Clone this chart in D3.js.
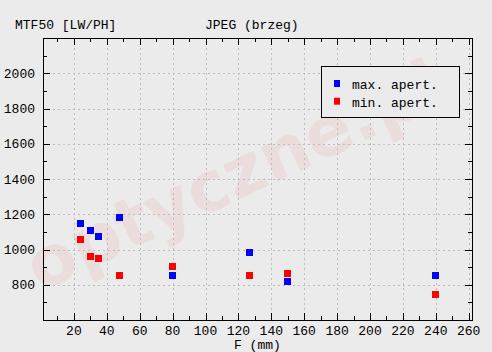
<!DOCTYPE html>
<html>
<head>
<meta charset="utf-8">
<script src="https://cdn.jsdelivr.net/npm/d3@7"></script>
<style>
  body { margin: 0; background: #ebebeb; }
  text { font-family: "Liberation Mono", "DejaVu Sans Mono", monospace; font-size: 13px; fill: #000; }
</style>
</head>
<body>
<div id="chart"></div>
<script>
// focal length (mm) of each measurement
const focal = [24, 30, 35, 48, 80, 127, 150, 240];
// MTF50 values
const maxApert = [1147, 1107, 1073, 1181, 855, 981, 821, 850];
const minApert = [1055, 958, 947, 855, 906, 855, 861, 747];
const seriesNames = ["max. apert.", "min. apert."];
const seriesColors = ["#0000ff", "#ff0000"];
const xTicks = [20, 40, 60, 80, 100, 120, 140, 160, 180, 200, 220, 240, 260];
const yTicks = [800, 1000, 1200, 1400, 1600, 1800, 2000];

function draw_chart(){
  const W = 492, H = 352;
  const frame = {left: 43, right: 472, top: 38, bottom: 320};

  const svg = d3.select("#chart").append("svg")
      .attr("width", W)
      .attr("height", H);

  svg.append("rect").attr("width", W).attr("height", H).attr("fill", "#ebebeb");

  const x = d3.scaleLinear().domain([1.2, 262]).range([frame.left, frame.right]);
  const y = d3.scaleLinear().domain([600, 2200]).range([frame.bottom, frame.top]);

  // watermark
  svg.append("text")
    .attr("transform", "translate(40,292) rotate(-25)")
    .style("font-family", "'DejaVu Sans', sans-serif")
    .style("font-weight", "bold")
    .style("font-size", "69px")
    .style("fill", "#ff0000")
    .style("opacity", 0.055)
    .text("optyczne.pl");

  // grid lines
  const grid = svg.append("g")
    .attr("stroke", "#bdbdbd")
    .attr("stroke-dasharray", "2,3");
  grid.selectAll("line.vx")
    .data(xTicks.filter(d => d < 262))
    .join("line")
      .attr("x1", d => Math.round(x(d)) + 0.5).attr("x2", d => Math.round(x(d)) + 0.5)
      .attr("y1", frame.top).attr("y2", frame.bottom);
  grid.selectAll("line.hy")
    .data(yTicks)
    .join("line")
      .attr("y1", d => Math.round(y(d)) + 0.5).attr("y2", d => Math.round(y(d)) + 0.5)
      .attr("x1", frame.left).attr("x2", frame.right);

  // frame with inward ticks on all sides
  const minorX = d3.range(10, 262, 10);
  const minorY = d3.range(700, 2200, 100);
  const axes = svg.append("g").attr("stroke", "#000").attr("shape-rendering", "crispEdges");
  axes.append("rect")
    .attr("x", frame.left + 0.5).attr("y", frame.top + 0.5)
    .attr("width", frame.right - frame.left).attr("height", frame.bottom - frame.top)
    .attr("fill", "none");

  const tl = d => (d % 20 === 0 ? 7 : 4);
  const tly = d => (d % 200 === 0 ? 7 : 4);
  axes.selectAll("line.bt").data(minorX).join("line")
    .attr("x1", d => Math.round(x(d)) + 0.5).attr("x2", d => Math.round(x(d)) + 0.5)
    .attr("y1", frame.bottom).attr("y2", d => frame.bottom - tl(d));
  axes.selectAll("line.tt").data(minorX).join("line")
    .attr("x1", d => Math.round(x(d)) + 0.5).attr("x2", d => Math.round(x(d)) + 0.5)
    .attr("y1", frame.top).attr("y2", d => frame.top + tl(d));
  axes.selectAll("line.lt").data(minorY).join("line")
    .attr("y1", d => Math.round(y(d)) + 0.5).attr("y2", d => Math.round(y(d)) + 0.5)
    .attr("x1", frame.left).attr("x2", d => frame.left + tly(d));
  axes.selectAll("line.rt").data(minorY).join("line")
    .attr("y1", d => Math.round(y(d)) + 0.5).attr("y2", d => Math.round(y(d)) + 0.5)
    .attr("x1", frame.right).attr("x2", d => frame.right - tly(d));

  // tick labels
  svg.selectAll("text.xl").data(xTicks).join("text")
    .attr("x", d => x(d)).attr("y", 335)
    .style("text-anchor", "middle")
    .text(d => d);
  svg.selectAll("text.yl").data(yTicks).join("text")
    .attr("x", 35).attr("y", d => y(d) + 4.5)
    .style("text-anchor", "end")
    .text(d => d);

  // titles
  svg.append("text").attr("x", 15).attr("y", 29).text("MTF50 [LW/PH]");
  svg.append("text").attr("x", 205).attr("y", 29).text("JPEG (brzeg)");
  svg.append("text").attr("x", 234).attr("y", 349).text("F (mm)");

  // points
  const series = [maxApert, minApert];
  const sz = 7;
  series.forEach((vals, i) => {
    svg.append("g").attr("fill", seriesColors[i])
      .selectAll("rect")
      .data(vals.map((v, j) => ({f: focal[j], v: v})))
      .join("rect")
        .attr("x", d => Math.round(x(d.f) - sz / 2))
        .attr("y", d => Math.round(y(d.v) - sz / 2))
        .attr("width", sz).attr("height", sz);
  });

  // legend
  const lg = svg.append("g").attr("transform", "translate(321,66)");
  lg.append("rect")
    .attr("x", 0.5).attr("y", 0.5).attr("width", 138).attr("height", 51)
    .attr("fill", "#ebebeb").attr("stroke", "#000");
  seriesNames.forEach((name, i) => {
    lg.append("rect")
      .attr("x", 13).attr("y", 14 + i * 17.7)
      .attr("width", 6).attr("height", 7)
      .attr("fill", seriesColors[i]);
    lg.append("text").attr("x", 31).attr("y", 23 + i * 17.7).text(name);
  });
}

draw_chart();
</script>
</body>
</html>
